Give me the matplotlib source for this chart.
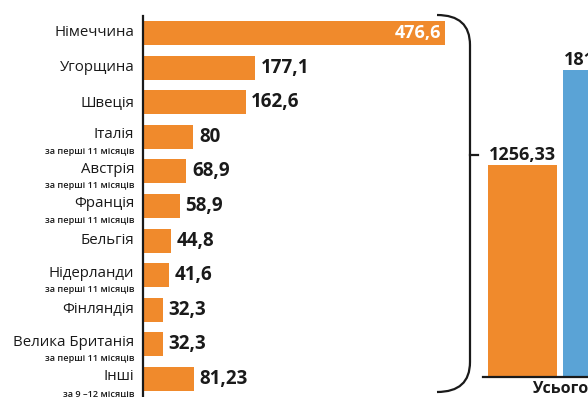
import matplotlib
matplotlib.use('Agg')
import matplotlib.pyplot as plt
from matplotlib.path import Path
from matplotlib.patches import PathPatch

plt.rcParams['font.family'] = ['Open Sans', 'DejaVu Sans']

# Data
countries = ['Німеччина', 'Угорщина', 'Швеція', 'Італія', 'Австрія', 'Франція',
             'Бельгія', 'Нідерланди', 'Фінляндія', 'Велика Британія', 'Інші']
notes = ['', '', '', 'за перші 11 місяців', 'за перші 11 місяців', 'за перші 11 місяців',
         '', 'за перші 11 місяців', '', 'за перші 11 місяців', 'за 9 –12 місяців']
values = [476.6, 177.1, 162.6, 80, 68.9, 58.9, 44.8, 41.6, 32.3, 32.3, 81.23]
value_labels = ['476,6', '177,1', '162,6', '80', '68,9', '58,9', '44,8', '41,6',
                '32,3', '32,3', '81,23']
total_labels = ['1256,33', '1819,33']
total_values = [1256.33, 1819.33]

orange = '#F08A2C'
blue = '#5AA3D6'
W, H = 588, 397

fig = plt.figure(figsize=(W / 100, H / 100), dpi=100)

# px -> figure fraction helpers
def fx(px):
    return px / W

def fy(py):
    return 1 - py / H

# Left horizontal bars
ax = fig.add_axes([fx(143), 0, fx(470) - fx(143), fy(16)])
ypos = list(range(len(countries)))
ax.barh(ypos, values, height=0.69, color=orange, left=0)
ax.set_xlim(0.6, 516)
ax.set_ylim(10.52, -0.49)
for s in ['top', 'right', 'bottom']:
    ax.spines[s].set_visible(False)
ax.spines['left'].set_linewidth(1.6)
ax.spines['left'].set_color('#1a1a1a')
ax.set_xticks([])
ax.set_yticks([])

for i, (name, note, v, lab) in enumerate(zip(countries, notes, values, value_labels)):
    if note:
        ax.annotate(name, (0, i), xytext=(-6, 1.5), textcoords='offset points',
                    ha='right', va='center', fontsize=10.8, color='#1a1a1a')
        ax.annotate(note, (0, i), xytext=(-6, -10.5), textcoords='offset points',
                    ha='right', va='center', fontsize=6.6, color='#1a1a1a',
                    fontweight='semibold')
    else:
        ax.annotate(name, (0, i), xytext=(-6, 0), textcoords='offset points',
                    ha='right', va='center', fontsize=10.8, color='#1a1a1a')
    if i == 0:
        ax.annotate(lab, (v, i), xytext=(-2.5, 0), textcoords='offset points',
                    ha='right', va='center', fontsize=13, color='white',
                    fontweight='bold')
    else:
        ax.annotate(lab, (v, i), xytext=(4, 0), textcoords='offset points',
                    ha='left', va='center', fontsize=13.5, color='#1a1a1a',
                    fontweight='bold')

# Bracket
verts = [(fx(437), fy(15)), (fx(470), fy(15)), (fx(470), fy(45)),
         (fx(470), fy(362)),
         (fx(470), fy(392)), (fx(437), fy(392))]
codes = [Path.MOVETO, Path.CURVE3, Path.CURVE3, Path.LINETO, Path.CURVE3, Path.CURVE3]
fig.patches.append(PathPatch(Path(verts, codes), transform=fig.transFigure,
                             fill=False, lw=1.6, edgecolor='#1a1a1a'))
fig.add_artist(plt.Line2D([fx(470), fx(478)], [fy(155), fy(155)],
                          transform=fig.transFigure, lw=1.6, color='#1a1a1a'))

# Right totals
ax2 = fig.add_axes([fx(483), fy(377), fx(588) - fx(483), fy(16) - fy(377)])
ax2.bar([0, 1], total_values, width=0.92, color=[orange, blue])
ax2.set_xlim(-0.527, 0.873)
ax2.set_ylim(0, 2140)
for s in ['top', 'right', 'left']:
    ax2.spines[s].set_visible(False)
ax2.spines['bottom'].set_linewidth(1.6)
ax2.spines['bottom'].set_color('#1a1a1a')
ax2.set_xticks([])
ax2.set_yticks([])
for i, (v, lab) in enumerate(zip(total_values, total_labels)):
    ax2.annotate(lab, (i, v), xytext=(0, 1), textcoords='offset points',
                 ha='center', va='bottom', fontsize=13, color='#1a1a1a',
                 fontweight='bold', annotation_clip=False)
ax2.annotate('Усього', (0.5, 0), xytext=(0, -3), textcoords='offset points',
             ha='center', va='top', fontsize=11.5, color='#1a1a1a',
             fontweight='bold', annotation_clip=False)

fig.savefig('out.png', dpi=100)
